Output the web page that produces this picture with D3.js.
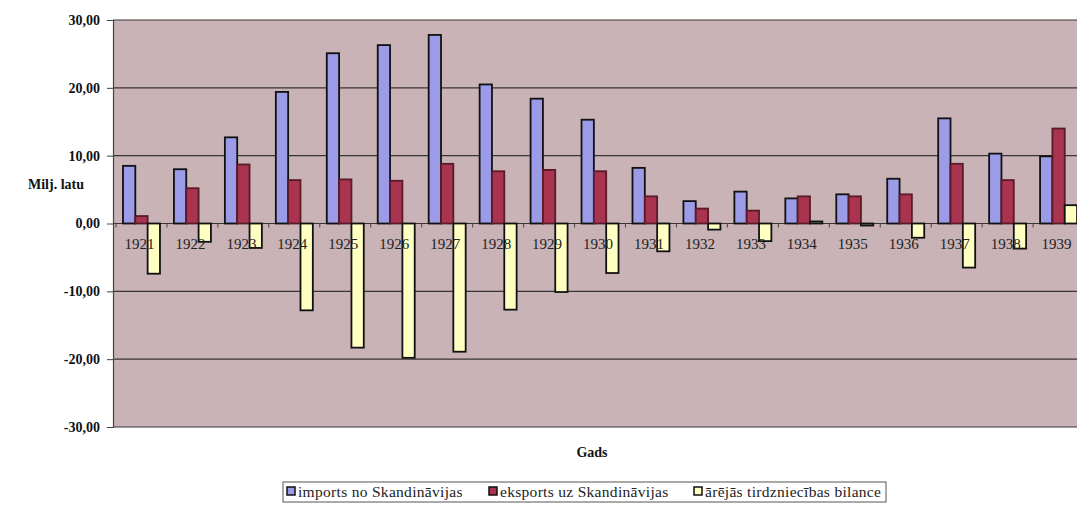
<!DOCTYPE html>
<html><head><meta charset="utf-8">
<script src="https://cdn.jsdelivr.net/npm/d3@7"></script>
<style>body{margin:0;background:#fff;} svg{display:block;} text{font-family:"Liberation Serif","Times New Roman",Times,"DejaVu Serif","Noto Serif",serif;}</style>
</head><body>
<svg id="c" width="1077" height="507"></svg>
<script>
const years = ["1921","1922","1923","1924","1925","1926","1927","1928","1929","1930","1931","1932","1933","1934","1935","1936","1937","1938","1939"];
const imports = [8.5,8.0,12.7,19.4,25.1,26.3,27.8,20.5,18.4,15.3,8.2,3.3,4.7,3.7,4.3,6.6,15.5,10.3,9.9];
const exports_ = [1.1,5.2,8.7,6.4,6.5,6.3,8.8,7.7,7.9,7.7,4.0,2.2,1.9,4.0,4.0,4.3,8.8,6.4,14.0];
const balance = [-7.4,-2.7,-3.6,-12.8,-18.3,-19.8,-18.9,-12.7,-10.1,-7.3,-4.1,-0.9,-2.6,0.3,-0.3,-2.1,-6.5,-3.7,2.7];
const seriesNames = ["imports no Skandināvijas","eksports uz Skandināvijas","ārējās tirdzniecības bilance"];
const yTicks = [30,20,10,0,-10,-20,-30];
const yTitle = "Milj. latu";
const xTitle = "Gads";

const colors = ["#9b9be8","#a8344f","#ffffc2"];
const strokes = ["#111","#5a1a28","#111"];
const series = [imports, exports_, balance];

const svg = d3.select("#c");
const plotL = 113, plotR = 1090, plotT = 20, plotB = 427;

const y = d3.scaleLinear().domain([-30,30]).range([plotB, plotT]);
const x = d3.scaleBand().domain(years).range([116, 116 + 50.95*19]).paddingInner(0.274).paddingOuter(0.137);
const xs = d3.scaleBand().domain([0,1,2]).range([0, x.bandwidth()]);

svg.append("rect").attr("x", plotL).attr("y", plotT).attr("width", plotR-plotL).attr("height", plotB-plotT)
  .attr("fill", "#c9b3b7");

svg.append("g").selectAll("line").data(yTicks).join("line")
  .attr("x1", plotL).attr("x2", plotR).attr("y1", d=>y(d)).attr("y2", d=>y(d))
  .attr("stroke", "#3a3434").attr("stroke-width", 1.2);

const yAxis = d3.axisLeft(y).tickValues(yTicks).tickSize(6).tickPadding(7)
  .tickFormat(d => d3.format(".2f")(d).replace(".", ",").replace("\u2212", "-"));
const ga = svg.append("g").attr("transform", `translate(${plotL},0)`).call(yAxis);
ga.select(".domain").attr("stroke", "#444").attr("stroke-width", 1.2);
ga.selectAll(".tick line").attr("stroke", "#444");
ga.selectAll("text").attr("font-family", null).attr("font-size", 14).attr("font-weight", "bold").attr("fill", "#111");

svg.append("g").selectAll("line").data(years).join("line")
  .attr("x1", d => x(d) - x.step()*x.paddingInner()/2).attr("x2", d => x(d) - x.step()*x.paddingInner()/2)
  .attr("y1", y(0)).attr("y2", y(0)+4).attr("stroke", "#444");

series.forEach((vals, si) => {
  svg.append("g").selectAll("rect").data(vals).join("rect")
    .attr("x", (d,i) => x(years[i]) + xs(si))
    .attr("width", xs.bandwidth())
    .attr("y", d => y(Math.max(0,d)))
    .attr("height", d => Math.abs(y(d) - y(0)))
    .attr("fill", colors[si]).attr("stroke", strokes[si]).attr("stroke-width", 1.8);
});

// category labels drawn over bars
svg.append("g").selectAll("text").data(years).join("text")
  .attr("x", d => x(d) + x.bandwidth()/2 - 2).attr("y", y(0) + 25)
  .attr("text-anchor", "middle").attr("font-size", 15)
  .attr("fill", "#222").text(d => d);

svg.append("text").attr("x", 28).attr("y", 189).attr("font-size", 14)
  .attr("font-weight", "bold").attr("fill", "#111").text(yTitle);
svg.append("text").attr("x", 592).attr("y", 457).attr("text-anchor", "middle")
  .attr("font-size", 14).attr("font-weight", "bold").attr("fill", "#111").text(xTitle);

const lg = svg.append("g");
lg.append("rect").attr("x", 283).attr("y", 482).attr("width", 603).attr("height", 20)
  .attr("fill", "#fff").attr("stroke", "#555").attr("stroke-width", 1);
const legX = [287, 489, 694];
seriesNames.forEach((n, i) => {
  lg.append("rect").attr("x", legX[i]).attr("y", 487).attr("width", 8).attr("height", 8)
    .attr("fill", colors[i]).attr("stroke", "#111").attr("stroke-width", 1.5);
  lg.append("text").attr("x", legX[i] + 11).attr("y", 496.5).attr("font-size", 15.5)
    .attr("letter-spacing", 0.3).attr("fill", "#222").text(n);
});
</script>
</body></html>
